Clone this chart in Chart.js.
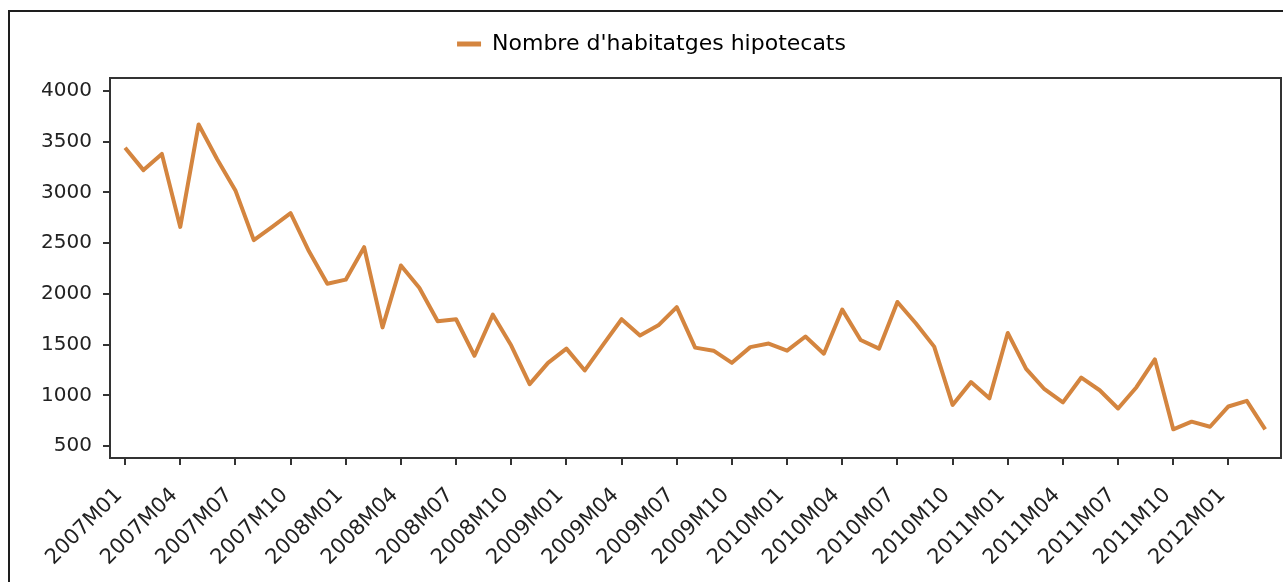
<!DOCTYPE html>
<html lang="ca">
<head>
<meta charset="utf-8">
<title>Nombre d'habitatges hipotecats</title>
<script src="https://cdn.jsdelivr.net/npm/chart.js@4.4.1/dist/chart.umd.min.js"></script>
<style>
    html, body { margin: 0; padding: 0; background: #fff; overflow: hidden; }
    #frame {
        position: absolute; left: 8px; top: 10px;
        width: 1400px; height: 700px;
        border-top: 2px solid #1e1e1e; border-left: 2px solid #1e1e1e;
    }
    #wrap { position: absolute; left: 0; top: 0; width: 1283px; height: 582px; }
</style>
</head>
<body>
<div id="frame"></div>
<div id="wrap"><canvas id="chart"></canvas></div>
<script>
/* ------------------------------
   Data - monthly, 2007M01 .. 2012M03
   ------------------------------ */
const months = [
    '2007M01','2007M02','2007M03','2007M04','2007M05','2007M06','2007M07','2007M08','2007M09','2007M10','2007M11','2007M12',
    '2008M01','2008M02','2008M03','2008M04','2008M05','2008M06','2008M07','2008M08','2008M09','2008M10','2008M11','2008M12',
    '2009M01','2009M02','2009M03','2009M04','2009M05','2009M06','2009M07','2009M08','2009M09','2009M10','2009M11','2009M12',
    '2010M01','2010M02','2010M03','2010M04','2010M05','2010M06','2010M07','2010M08','2010M09','2010M10','2010M11','2010M12',
    '2011M01','2011M02','2011M03','2011M04','2011M05','2011M06','2011M07','2011M08','2011M09','2011M10','2011M11','2011M12',
    '2012M01','2012M02','2012M03'
];

const hipotecats = [
    3440, 3220, 3380, 2660, 3670, 3330, 3020, 2530, 2660, 2795, 2420, 2100,
    2140, 2460, 1670, 2280, 2060, 1730, 1750, 1390, 1795, 1490, 1110, 1320,
    1460, 1245, 1500, 1750, 1590, 1690, 1870, 1470, 1440, 1320, 1475, 1510,
    1440, 1580, 1410, 1845, 1545, 1460, 1920, 1710, 1480, 905, 1130, 970,
    1615, 1260, 1060, 930, 1175, 1050, 870, 1080, 1355, 665, 740, 690,
    890, 945, 665
];

// quarterly labels on the x axis (M01, M04, M07, M10)
const xTickIndex = months.map((m, i) => i).filter(i => i % 3 === 0);
const yTicks = [500, 1000, 1500, 2000, 2500, 3000, 3500, 4000];

const lineColor = '#d4853f';
const axisColor = '#333';
const textColor = '#222';
const fontFamily = "'DejaVu Sans', sans-serif";

// ------------------------------
// Plugins
// ------------------------------
// frame around the plot area
const plotFrame = {
    id: 'plotFrame',
    afterDraw(chart) {
        const { ctx, chartArea: a } = chart;
        ctx.save();
        ctx.strokeStyle = axisColor;
        ctx.lineWidth = 2;
        ctx.strokeRect(a.left, a.top, a.right - a.left, a.bottom - a.top);
        ctx.restore();
    }
};

// extra room between legend and plot
const legendGap = {
    id: 'legendGap',
    beforeInit(chart) {
        const fit = chart.legend.fit;
        chart.legend.fit = function () {
            fit.call(this);
            this.height += 13;
        };
    }
};

// ------------------------------
// Chart
// ------------------------------
const ctx = document.getElementById('chart').getContext('2d');
const chart = new Chart(ctx, {
    type: 'line',
    data: {
        datasets: [{
            label: "Nombre d'habitatges hipotecats",
            data: hipotecats.map((v, i) => ({ x: i, y: v })),
            borderColor: lineColor,
            backgroundColor: lineColor,
            borderWidth: 4,
            borderJoinStyle: 'round',
            pointRadius: 0,
            tension: 0,
            fill: false
        }]
    },
    options: {
        responsive: true,
        maintainAspectRatio: false,
        animation: false,
        layout: { padding: { top: 9, left: 22, right: 2, bottom: 0 } },
        plugins: {
            legend: {
                position: 'top',
                labels: {
                    boxWidth: 24,
                    boxHeight: 5,
                    padding: 24,
                    color: textColor,
                    font: { family: fontFamily, size: 22 },
                    generateLabels: (c) => [{
                        text: c.data.datasets[0].label,
                        fillStyle: lineColor,
                        strokeStyle: lineColor,
                        lineWidth: 0,
                        hidden: false,
                        datasetIndex: 0
                    }]
                }
            },
            tooltip: { enabled: false }
        },
        scales: {
            x: {
                type: 'linear',
                min: -0.82,
                max: 62.86,
                afterFit: (s) => { s.height = 124; },
                afterBuildTicks: (s) => { s.ticks = xTickIndex.map(v => ({ value: v })); },
                border: { color: axisColor, width: 2 },
                grid: { drawOnChartArea: false, color: axisColor, lineWidth: 2, tickLength: 7 },
                ticks: {
                    autoSkip: false,
                    minRotation: 45,
                    maxRotation: 45,
                    padding: 18,
                    labelOffset: -6,
                    color: textColor,
                    font: { family: fontFamily, size: 21 },
                    callback: (v) => months[v]
                }
            },
            y: {
                min: 382,
                max: 4128,
                afterFit: (s) => { s.width = 88; },
                afterBuildTicks: (s) => { s.ticks = yTicks.map(v => ({ value: v })); },
                border: { color: axisColor, width: 2 },
                grid: { drawOnChartArea: false, color: axisColor, lineWidth: 2, tickLength: 7 },
                ticks: {
                    padding: 11,
                    color: textColor,
                    font: { family: fontFamily, size: 20 },
                    callback: (v) => String(v)
                }
            }
        }
    },
    plugins: [plotFrame, legendGap]
});
</script>
</body>
</html>
